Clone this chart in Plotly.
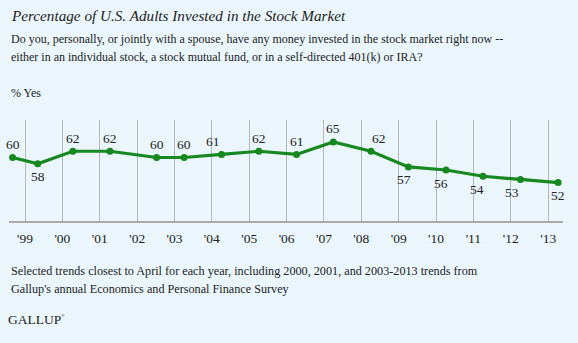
import plotly.graph_objects as go

# ---- data ----
survey_dates = ["1998-09-01", "1999-05-05", "2000-04-12", "2001-04-10", "2002-07-10",
                "2003-04-05", "2004-04-05", "2005-04-05", "2006-04-08", "2007-04-02",
                "2008-04-05", "2009-04-05", "2010-04-08", "2011-04-05", "2012-04-05",
                "2013-04-08"]
pct_yes = [60, 58, 62, 62, 60, 60, 61, 62, 61, 65, 62, 57, 56, 54, 53, 52]
tick_years = [f"{y}-01-01" for y in range(1999, 2014)]
tick_labels = ["'99", "'00", "'01", "'02", "'03", "'04", "'05", "'06", "'07",
               "'08", "'09", "'10", "'11", "'12", "'13"]

title = "Percentage of U.S. Adults Invested in the Stock Market"
question_1 = "Do you, personally, or jointly with a spouse, have any money invested in the stock market right now --"
question_2 = "either in an individual stock, a stock mutual fund, or in a self-directed 401(k) or IRA?"
unit_label = "% Yes"
note_1 = "Selected trends closest to April for each year, including 2000, 2001, and 2003-2013 trends from"
note_2 = "Gallup's annual Economics and Personal Finance Survey"
brand = "GALLUP"
brand_mark = "®"

# ---- style ----
BG = "#EAF6FC"
GREEN = "#17871F"
GRID = "#B4B8BA"
SERIF = "Liberation Serif, Georgia, serif"
TXT = "#222222"

W, H = 578, 343
ML, MR, MT, MB = 9, 15, 120, 122
plot_w = W - ML - MR
plot_h = H - MT - MB


def py(pix_y):
    return (H - MB - pix_y) / plot_h


def px(pix_x):
    return (pix_x - ML) / plot_w


fig = go.Figure()
fig.add_trace(go.Scatter(
    x=survey_dates, y=pct_yes, mode="lines+markers",
    line=dict(color=GREEN, width=3.2),
    marker=dict(color=GREEN, size=7),
    hoverinfo="skip", showlegend=False,
))

# label nudges (horizontal, px) to mimic original placement
nudges = {6: -9, 10: 8, 11: -4, 12: -5, 13: -6, 14: -8}
annotations = []
for i, (d, v) in enumerate(zip(survey_dates, pct_yes)):
    below = v < 60
    annotations.append(dict(
        x=d, y=v, xref="x", yref="y", text=str(v), showarrow=False,
        yshift=-13 if below else 13, xshift=nudges.get(i, 0),
        font=dict(family=SERIF, size=13.5, color=TXT),
        xanchor="center", yanchor="middle",
    ))


def txt(text, y_pix, size, italic=False, x=0.0):
    t = f"<i>{text}</i>" if italic else text
    return dict(x=x, y=py(y_pix), xref="paper", yref="paper", text=t,
                showarrow=False, xanchor="left", yanchor="middle",
                font=dict(family=SERIF, size=size, color=TXT))


annotations += [
    txt(title, 15, 15.2, italic=True),
    txt(question_1, 38.5, 12),
    txt(question_2, 57, 12),
    txt(unit_label, 93, 12),
    txt(note_1, 271, 12.2),
    txt(note_2, 289, 12.2),
    txt(brand, 319.5, 13.5, x=px(6)),
    txt(brand_mark, 315, 5, x=px(58.5)),
]

fig.update_layout(
    width=W, height=H,
    margin=dict(l=ML, r=MR, t=MT, b=MB),
    paper_bgcolor=BG, plot_bgcolor=BG,
    annotations=annotations,
    xaxis=dict(
        type="date", range=["1998-07-28", "2013-05-26"],
        tickvals=tick_years, ticktext=tick_labels,
        showgrid=True, gridcolor=GRID, gridwidth=1,
        showline=True, linecolor="#AAAAAA", linewidth=2,
        ticks="", ticklabelstandoff=4,
        tickfont=dict(family=SERIF, size=13.5, color=TXT),
        zeroline=False,
    ),
    yaxis=dict(
        range=[39.7, 72], showgrid=False, showticklabels=False,
        zeroline=False, showline=False,
    ),
)

fig.write_html("out.html")
